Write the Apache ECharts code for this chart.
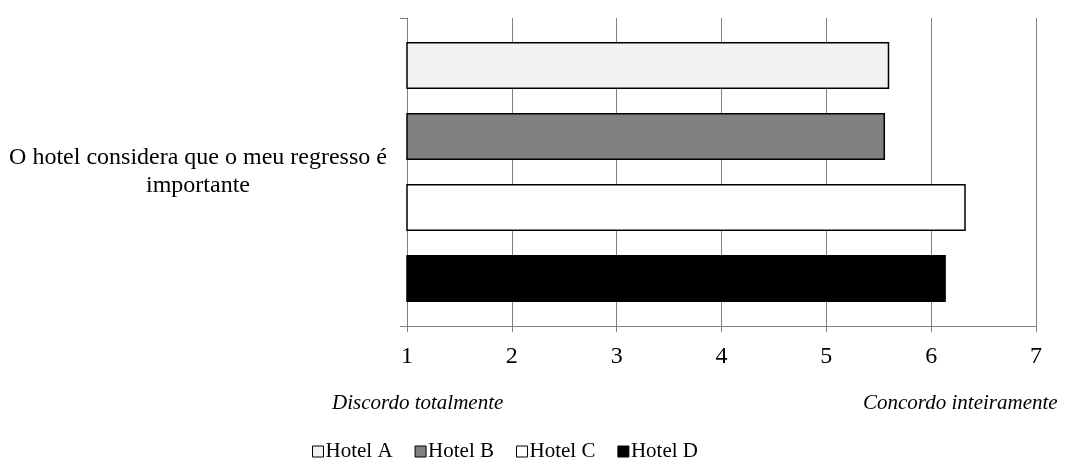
<!DOCTYPE html>
<html>
<head>
<meta charset="utf-8">
<script src="https://cdn.jsdelivr.net/npm/echarts@6/dist/echarts.min.js"></script>
<style>
  html, body { margin: 0; padding: 0; background: #ffffff; }
  #chart { width: 1065px; height: 462px; }
</style>
</head>
<body>
<div id="chart"></div>
<script>
// Survey item and mean scores per hotel (scale 1–7)
const categories = ['O hotel considera que o meu regresso é\nimportante'];
const hotelNames = ['Hotel A', 'Hotel B', 'Hotel C', 'Hotel D'];
const hotelA = [5.60];
const hotelB = [5.56];
const hotelC = [6.33];
const hotelD = [6.14];
const scaleTicks = [1, 2, 3, 4, 5, 6, 7];
const scaleEnds = ['Discordo totalmente', 'Concordo inteiramente'];

const fills = ['#f2f2f2', '#808080', '#ffffff', '#000000'];
const values = [hotelA, hotelB, hotelC, hotelD];
const serif = '"Liberation Serif", "Times New Roman", serif';
const axisGray = '#808080';

const chart = echarts.init(document.getElementById('chart'), null, { renderer: 'canvas' });

const series = hotelNames.map((name, i) => ({
  name: name,
  type: 'bar',
  data: values[i],
  barWidth: 47,
  barGap: '51%',
  itemStyle: { color: fills[i], borderColor: '#000000', borderWidth: 1.5 }
}));

chart.setOption({
  animation: false,
  backgroundColor: '#ffffff',
  grid: { left: 407, right: 29, top: 18, bottom: 136, containLabel: false },
  xAxis: {
    type: 'value',
    min: scaleTicks[0],
    max: scaleTicks[scaleTicks.length - 1],
    interval: 1,
    axisLine: { show: true, lineStyle: { color: axisGray, width: 1 } },
    axisTick: { show: true, length: 6, lineStyle: { color: axisGray } },
    splitLine: { show: true, lineStyle: { color: axisGray, width: 1 } },
    axisLabel: { color: '#000000', fontFamily: serif, fontSize: 24, margin: 19 }
  },
  yAxis: {
    type: 'category',
    data: categories,
    inverse: true,
    axisLine: { show: true, lineStyle: { color: axisGray, width: 1 } },
    axisTick: { show: true, length: 7, lineStyle: { color: axisGray } },
    axisLabel: {
      color: '#000000', fontFamily: serif, fontSize: 24, lineHeight: 28,
      align: 'center', margin: 209, padding: [4, 0, 0, 0]
    }
  },
  legend: {
    data: hotelNames,
    bottom: 0,
    left: 312,
    padding: 0,
    itemWidth: 11,
    itemHeight: 11,
    itemGap: 22,
    icon: 'rect',
    textStyle: { color: '#000000', fontFamily: serif, fontSize: 21, padding: [0, 0, 0, -3] },
    itemStyle: { borderColor: '#000000', borderWidth: 1 }
  },
  graphic: [
    {
      type: 'text', left: 332, top: 393,
      style: { text: scaleEnds[0], fontFamily: serif, fontSize: 21, fontStyle: 'italic', fill: '#000000' }
    },
    {
      type: 'text', left: 863, top: 393,
      style: { text: scaleEnds[1], fontFamily: serif, fontSize: 21, fontStyle: 'italic', fill: '#000000' }
    }
  ],
  series: series
});
</script>
</body>
</html>
